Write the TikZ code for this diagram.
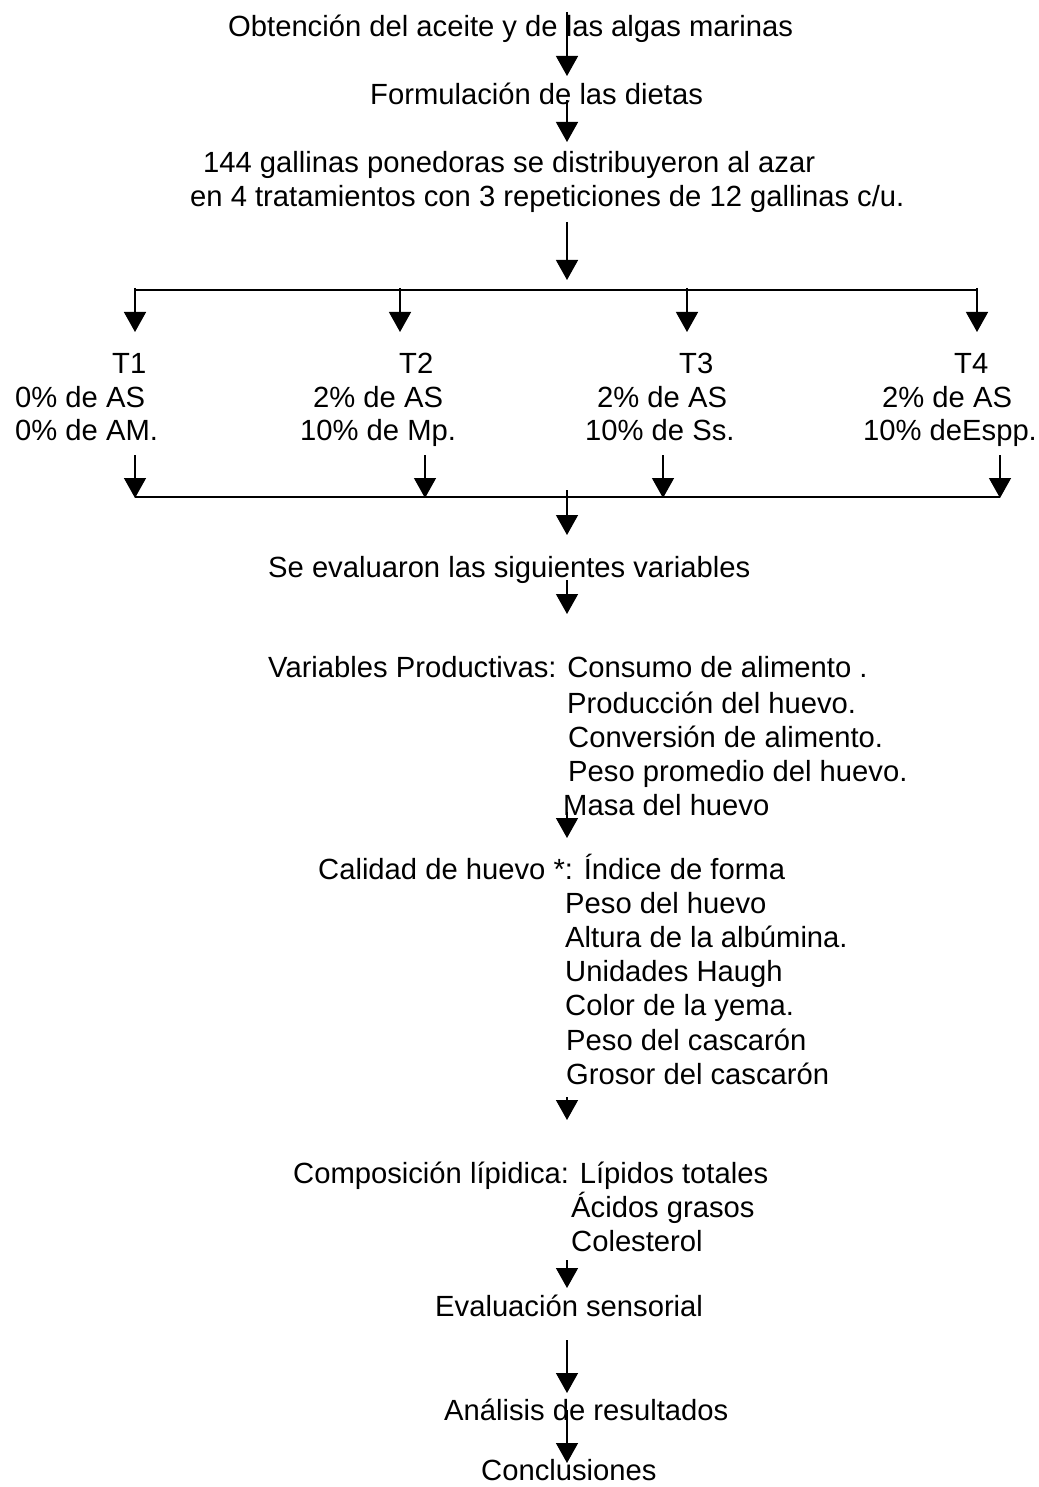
\documentclass[tikz,border=0pt]{standalone}
\usepackage{fontspec}
\setmainfont{Liberation Sans}
\usetikzlibrary{arrows.meta}

\begin{document}
\begin{tikzpicture}[x=1pt,y=-1pt,
    txt/.style={anchor=base west,inner sep=0pt,font=\fontsize{29.2}{35}\selectfont},
    arr/.style={-{Triangle[width=22pt,length=20pt]},line width=1.4pt},
    bar/.style={line width=2.2pt}]
    \useasboundingbox (0,0) rectangle (1038,1487);

    % steps down the middle
    \node [txt] (obt)  at (228,37)  {Obtención del aceite y de las algas marinas};
    \node [txt] (form) at (370,105) {Formulación de las dietas};
    \node [txt] (gal)  at (203,173) {144 gallinas ponedoras se distribuyeron al azar};
    \node [txt] (galb) at (190,207) {en 4 tratamientos con 3 repeticiones de 12 gallinas c/u.};

    % treatments
    \node [txt] (t1)  at (112,373) {T1};
    \node [txt] (t1a) at (15,407)  {0\% de AS};
    \node [txt] (t1b) at (15,440)  {0\% de AM.};
    \node [txt] (t2)  at (399,373) {T2};
    \node [txt] (t2a) at (313,407) {2\% de AS};
    \node [txt] (t2b) at (300,440) {10\% de Mp.};
    \node [txt] (t3)  at (679,373) {T3};
    \node [txt] (t3a) at (597,407) {2\% de AS};
    \node [txt] (t3b) at (585,440) {10\% de Ss.};
    \node [txt] (t4)  at (954,373) {T4};
    \node [txt] (t4a) at (882,407) {2\% de AS};
    \node [txt] (t4b) at (863,440) {10\% deEspp.};

    \node [txt] (eval) at (268,577) {Se evaluaron las siguientes variables};

    \node [txt] (vp)  at (268,677) {Variables Productivas: Consumo de alimento .};
    \node [txt] (vp2) at (567,713) {Producción del huevo.};
    \node [txt] (vp3) at (568,747) {Conversión de alimento.};
    \node [txt] (vp4) at (568,781) {Peso promedio del huevo.};
    \node [txt] (vp5) at (563,815) {Masa del huevo};

    \node [txt] (cal)  at (318,879)  {Calidad de huevo *: Índice de forma};
    \node [txt] (cal2) at (565,913)  {Peso del huevo};
    \node [txt] (cal3) at (565,947)  {Altura de la albúmina.};
    \node [txt] (cal4) at (565,981)  {Unidades Haugh};
    \node [txt] (cal5) at (565,1015) {Color de la yema.};
    \node [txt] (cal6) at (566,1050) {Peso del cascarón};
    \node [txt] (cal7) at (566,1084) {Grosor del cascarón};

    \node [txt] (lip)  at (293,1183) {Composición lípidica: Lípidos totales};
    \node [txt] (lip2) at (571,1217) {Ácidos grasos};
    \node [txt] (lip3) at (571,1251) {Colesterol};

    \node [txt] (sens) at (435,1316) {Evaluación sensorial};
    \node [txt] (res)  at (444,1420) {Análisis de resultados};
    \node [txt] (conc) at (481,1480) {Conclusiones};

    % arrows on the middle line
    \foreach \n/\a/\b in {1/12/76, 2/100/142, 3/222/280, 4/490/535, 5/580/614,
                          6/812/838, 7/1097/1120, 8/1260/1288, 9/1340/1393, 10/1410/1463} {
        \coordinate (s\n) at (567,\a);
        \coordinate (e\n) at (567,\b);
        \draw [arr] (s\n) -- (e\n);
    }

    % split into the four treatments
    \coordinate (up1) at (135,290);
    \coordinate (up4) at (977,290);
    \draw [bar] (up1) -- (up4);
    \foreach \n/\x in {1/135, 2/400, 3/687, 4/977} {
        \coordinate (us\n) at (\x,288);
        \coordinate (ue\n) at (\x,332);
        \draw [arr] (us\n) -- (ue\n);
    }

    % and back together
    \coordinate (lo1) at (135,497);
    \coordinate (lo4) at (1000,497);
    \draw [bar] (lo1) -- (lo4);
    \foreach \n/\x in {1/135, 2/425, 3/663, 4/1000} {
        \coordinate (ls\n) at (\x,455);
        \coordinate (le\n) at (\x,498);
        \draw [arr] (ls\n) -- (le\n);
    }
\end{tikzpicture}
\end{document}
